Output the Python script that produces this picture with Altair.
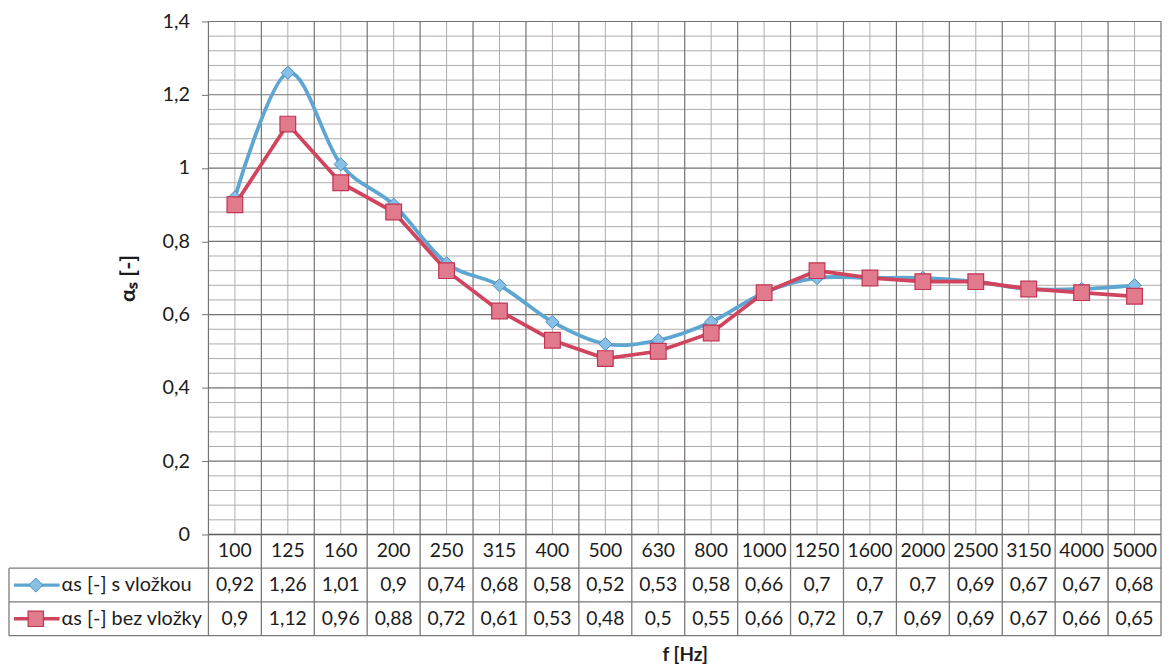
import altair as alt
import pandas as pd

# ---------------- data ----------------
freqs = ["100", "125", "160", "200", "250", "315", "400", "500", "630", "800",
         "1000", "1250", "1600", "2000", "2500", "3150", "4000", "5000"]
s_vlozkou = [0.92, 1.26, 1.01, 0.9, 0.74, 0.68, 0.58, 0.52, 0.53, 0.58,
             0.66, 0.7, 0.7, 0.7, 0.69, 0.67, 0.67, 0.68]
bez_vlozky = [0.9, 1.12, 0.96, 0.88, 0.72, 0.61, 0.53, 0.48, 0.5, 0.55,
              0.66, 0.72, 0.7, 0.69, 0.69, 0.67, 0.66, 0.65]
series_names = ["αs [-] s vložkou", "αs [-] bez vložky"]
y_ticks = [0, 0.2, 0.4, 0.6, 0.8, 1.0, 1.2, 1.4]
y_title = "αₛ [-]"
x_title = "f [Hz]"

# ---------------- layout / style ----------------
W, H = 960, 517
ROW, NROWS = 34, 3
N = len(freqs)
COL = W / N
LABEL_W = 201            # px width of the legend/label column of the data table
FONT = "Lato"
TXT = "#1c1c1c"
BLUE_LINE, BLUE_FILL, BLUE_STROKE = "#5ea6d2", "#88c0e5", "#4a8fc2"
RED_LINE, RED_FILL, RED_STROKE = "#d0445e", "#e27a8e", "#bf3553"
GRID_MAJOR, GRID_MINOR = "#767171", "#b0abab"
BORDER, TABLE_LINE = "#5e5a5a", "#7e7979"

def px(p):  # pixel offset -> x data units
    return p / COL

xscale = alt.Scale(domain=[0, N], nice=False, zero=False)
xaxis = alt.Axis(labels=False, ticks=False, domain=False, grid=False, title=x_title,
                 offset=ROW * NROWS, titlePadding=10)
yscale = alt.Scale(domain=[0, 1.4], nice=False, zero=False)
yaxis = alt.Axis(values=y_ticks, grid=False, domain=False, tickSize=7, tickColor=GRID_MAJOR,
                 labelExpr="replace(format(datum.value, '~g'), '.', ',')",
                 labelFont=FONT, labelFontSize=20, labelColor=TXT, labelPadding=12,
                 title=y_title, titlePadding=23)
tscale = alt.Scale(domain=[0, NROWS], range=[H, H + ROW * NROWS], nice=False, zero=False)

def X(f):
    return alt.X(f, type="quantitative", scale=xscale, axis=xaxis)

def Y(f):
    return alt.Y(f, type="quantitative", scale=yscale, axis=yaxis)

def TY(f):
    return alt.Y(f, type="quantitative", scale=tscale, axis=None)

# ---------------- main plot ----------------
pos = [i + 0.5 for i in range(N)]
df1 = pd.DataFrame({"pos": pos, "value": s_vlozkou})
df2 = pd.DataFrame({"pos": pos, "value": bez_vlozky})

h_minor = pd.DataFrame({"v": [k * 0.04 for k in range(1, 35) if k % 5]})
h_major = pd.DataFrame({"v": y_ticks})
v_minor = pd.DataFrame({"v": pos})
v_major = pd.DataFrame({"v": list(range(N + 1))})

g1 = alt.Chart(h_minor).mark_rule(color=GRID_MINOR, strokeWidth=1).encode(y=Y("v"))
g2 = alt.Chart(v_minor).mark_rule(color=GRID_MINOR, strokeWidth=1).encode(x=X("v"))
g3 = alt.Chart(h_major).mark_rule(color=GRID_MAJOR, strokeWidth=1.2).encode(y=Y("v"))
g4 = alt.Chart(v_major).mark_rule(color=GRID_MAJOR, strokeWidth=1.2).encode(x=X("v"))
base_line = alt.Chart(pd.DataFrame({"v": [0]})).mark_rule(color=BORDER, strokeWidth=1.4).encode(y=Y("v"))

blue_line = alt.Chart(df1).mark_line(color=BLUE_LINE, strokeWidth=3.8, interpolate="cardinal").encode(
    x=X("pos"), y=Y("value"))
blue_pts = alt.Chart(df1).mark_point(shape="diamond", filled=True, size=180, fill=BLUE_FILL,
                                     stroke=BLUE_STROKE, strokeWidth=1, opacity=1).encode(
    x=X("pos"), y=Y("value"))
red_line = alt.Chart(df2).mark_line(color=RED_LINE, strokeWidth=3.8).encode(x=X("pos"), y=Y("value"))
red_pts = alt.Chart(df2).mark_square(size=250, fill=RED_FILL, stroke=RED_STROKE, strokeWidth=1.2,
                                     opacity=1).encode(x=X("pos"), y=Y("value"))

main = alt.layer(g1, g2, g3, g4, base_line, blue_line, blue_pts, red_line, red_pts)

# ---------------- data table ----------------
left = -px(LABEL_W)
segs = []
for r in range(1, NROWS + 1):
    segs.append({"x": left, "x2": N, "y": r, "y2": r})
for c in range(N + 1):
    segs.append({"x": c, "x2": c, "y": 0, "y2": NROWS})
segs.append({"x": left, "x2": left, "y": 1, "y2": NROWS})
seg_df = pd.DataFrame(segs)

t_lines = alt.Chart(seg_df).mark_rule(color=TABLE_LINE, strokeWidth=1.3).encode(
    x=X("x"), x2="x2", y=TY("y"), y2="y2")

hdr = pd.DataFrame({"pos": pos, "row": 0.5, "t": freqs})
vals = pd.DataFrame({
    "pos": pos + pos,
    "row": [1.5] * N + [2.5] * N,
    "t": [str(v).replace(".", ",") for v in s_vlozkou] + [str(v).replace(".", ",") for v in bez_vlozky],
})
txt_kw = dict(font=FONT, fontSize=19.5, color=TXT, baseline="middle")
t_hdr = alt.Chart(hdr).mark_text(align="center", **txt_kw).encode(x=X("pos"), y=TY("row"), text="t:N")
t_vals = alt.Chart(vals).mark_text(align="center", **txt_kw).encode(x=X("pos"), y=TY("row"), text="t:N")

lab = pd.DataFrame({"x": [-px(148)] * 2, "row": [1.5, 2.5], "t": series_names})
t_lab = alt.Chart(lab).mark_text(align="left", font=FONT, fontSize=20, color=TXT,
                                 baseline="middle").encode(x=X("x"), y=TY("row"), text="t:N")

leg1 = pd.DataFrame({"x": [-px(196)], "x2": [-px(150)], "xm": [-px(174)], "row": [1.5]})
leg2 = pd.DataFrame({"x": [-px(196)], "x2": [-px(150)], "xm": [-px(174)], "row": [2.5]})
l1 = alt.Chart(leg1).mark_rule(color=BLUE_LINE, strokeWidth=3.2).encode(x=X("x"), x2="x2", y=TY("row"))
l1p = alt.Chart(leg1).mark_point(shape="diamond", filled=True, size=200, fill=BLUE_FILL,
                                 stroke=BLUE_STROKE, strokeWidth=1, opacity=1).encode(x=X("xm"), y=TY("row"))
l2 = alt.Chart(leg2).mark_rule(color=RED_LINE, strokeWidth=3.5).encode(x=X("x"), x2="x2", y=TY("row"))
l2p = alt.Chart(leg2).mark_square(size=240, fill=RED_FILL, stroke=RED_STROKE, strokeWidth=1.2,
                                  opacity=1).encode(x=X("xm"), y=TY("row"))

table = alt.layer(t_lines, t_hdr, t_vals, t_lab, l1, l1p, l2, l2p)

chart = alt.layer(main, table).resolve_scale(y="independent").properties(
    width=W, height=H,
    padding={"left": 0, "top": 1, "right": 0, "bottom": 2},
    background="white",
).configure_view(stroke=None).configure_axisX(
    titleFont=FONT, titleFontSize=19, titleFontWeight="bold", titleColor=TXT
).configure_axisY(
    titleFont=FONT, titleFontSize=22, titleFontWeight="bold", titleColor=TXT
)

chart.save("out.html", embed_options={"renderer": "svg", "actions": False})
